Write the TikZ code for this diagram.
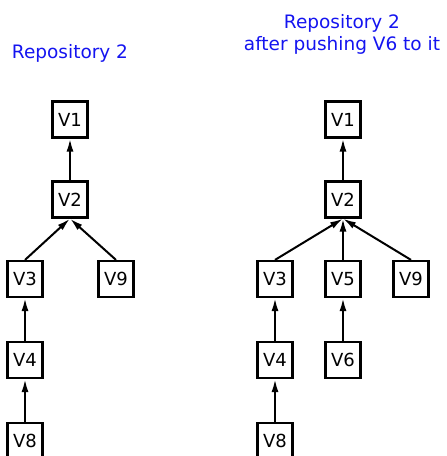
\documentclass[tikz,border=0pt]{standalone}
\usepackage{fontspec}
\setmainfont{DejaVu Sans}
\usetikzlibrary{arrows.meta}
\definecolor{titleblue}{RGB}{20,20,240}
\begin{document}
\begin{tikzpicture}[x=1pt,y=-1pt,
  ver/.style={draw,line width=2.2pt,minimum width=35pt,minimum height=36pt,inner sep=0pt,font=\fontsize{18}{20}\selectfont},
  title/.style={text=titleblue,font=\fontsize{18.5}{22}\selectfont,align=center,inner sep=0pt},
  link/.style={line width=2pt,-{Latex[length=13pt,width=7pt]}}]
\useasboundingbox (0,0) rectangle (447,456);
% left repository
\node[title,anchor=base] (tl) at (70,58.5) {Repository 2};
\node[ver] (a1) at (70,119.5) {V1};
\node[ver] (a2) at (70,199.5) {V2};
\node[ver] (a3) at (25,279) {V3};
\node[ver] (a9) at (116,279) {V9};
\node[ver] (a4) at (25,360) {V4};
\node[ver] (a8) at (25,441) {V8};
\draw[link] (a2) -- (a1);
\draw[link] (a3.north) -- (a2.south);
\draw[link] (a9.north) -- (a2.south);
\draw[link] (a4) -- (a3);
\draw[link] (a8) -- (a4);
% right repository
\node[title] (tr) at (342,34) {Repository 2\\after pushing V6 to it};
\node[ver] (b1) at (343,119.5) {V1};
\node[ver] (b2) at (343,199.5) {V2};
\node[ver] (b3) at (275,279) {V3};
\node[ver] (b5) at (343,279) {V5};
\node[ver] (b9) at (411,279) {V9};
\node[ver] (b4) at (275,360) {V4};
\node[ver] (b6) at (343,360) {V6};
\node[ver] (b8) at (275,441) {V8};
\draw[link] (b2) -- (b1);
\draw[link] (b3.north) -- (b2.south);
\draw[link] (b5) -- (b2);
\draw[link] (b9.north) -- (b2.south);
\draw[link] (b4) -- (b3);
\draw[link] (b6) -- (b5);
\draw[link] (b8) -- (b4);
\end{tikzpicture}
\end{document}
